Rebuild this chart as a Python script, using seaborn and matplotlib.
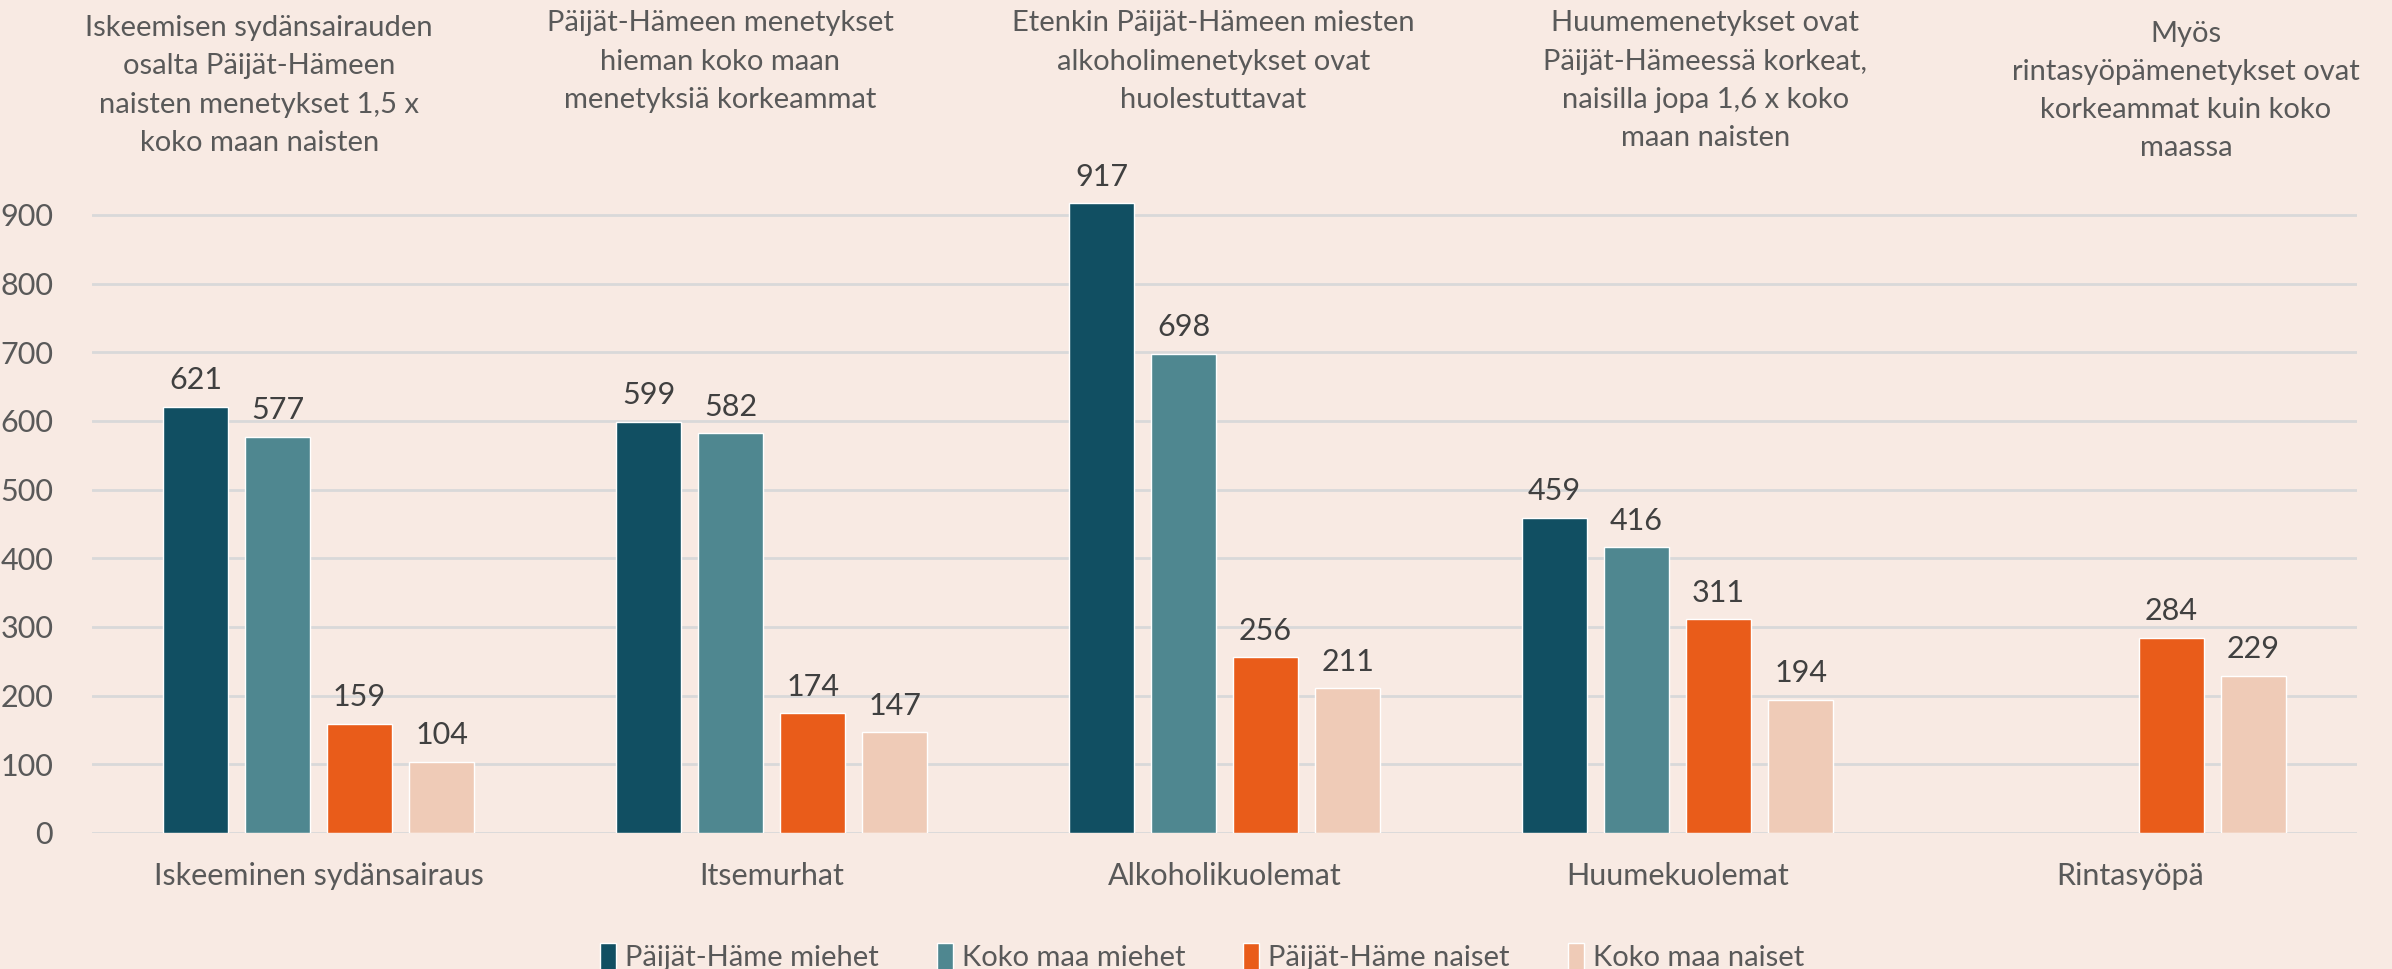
import numpy as np
import pandas as pd
import seaborn as sns
import matplotlib
matplotlib.use('Agg')
import matplotlib.pyplot as plt

categories = ['Iskeeminen sydänsairaus', 'Itsemurhat', 'Alkoholikuolemat',
              'Huumekuolemat', 'Rintasyöpä']
groups = ['Päijät-Häme miehet', 'Koko maa miehet', 'Päijät-Häme naiset', 'Koko maa naiset']
ph_miehet = [621, 599, 917, 459, np.nan]
kk_miehet = [577, 582, 698, 416, np.nan]
ph_naiset = [159, 174, 256, 311, 284]
kk_naiset = [104, 147, 211, 194, 229]
titles = [
    'Iskeemisen sydänsairauden\nosalta Päijät-Hämeen\nnaisten menetykset 1,5 x\nkoko maan naisten',
    'Päijät-Hämeen menetykset\nhieman koko maan\nmenetyksiä korkeammat',
    'Etenkin Päijät-Hämeen miesten\nalkoholimenetykset ovat\nhuolestuttavat',
    'Huumemenetykset ovat\nPäijät-Hämeessä korkeat,\nnaisilla jopa 1,6 x koko\nmaan naisten',
    'Myös\nrintasyöpämenetykset ovat\nkorkeammat kuin koko\nmaassa',
]
colors = ['#114F62', '#4F8790', '#E95C1A', '#EFCBB7']

# title text boxes (x in category units, top in axes fraction)
title_x = [-0.131, 0.886, 1.975, 3.061, 4.122]
title_top = [1.191, 1.198, 1.198, 1.198, 1.183]

bg = '#F8EAE3'
txt = '#595959'


def build_frame():
    rows = []
    for g, vals in zip(groups, [ph_miehet, kk_miehet, ph_naiset, kk_naiset]):
        for c, v in zip(categories, vals):
            if not np.isnan(v):
                rows.append({'kategoria': c, 'ryhma': g, 'arvo': v})
    return pd.DataFrame(rows)


def main():
    df = build_frame()
    sns.set_style('white')
    plt.rcParams['font.family'] = ['Lato', 'DejaVu Sans']

    fig = plt.figure(figsize=(23.92, 9.69), dpi=100, facecolor=bg)
    ax = fig.add_axes([0.0385, 0.1404, 0.9469, 0.7086])
    ax.set_facecolor(bg)

    sns.barplot(data=df, x='kategoria', y='arvo', hue='ryhma', order=categories,
                hue_order=groups, palette=colors, width=0.724, gap=0.21,
                errorbar=None, saturation=1, ax=ax)

    for cont in ax.containers:
        ax.bar_label(cont, fmt='%.0f', padding=9, fontsize=22, color='#404040')

    ax.set_ylim(0, 1000)
    ax.set_xlim(-0.5, 4.5)
    ax.set_yticks(range(0, 1000, 100))
    ax.yaxis.grid(True, color='#D9D9D9', linewidth=2)
    ax.set_axisbelow(True)
    for s in ax.spines.values():
        s.set_visible(False)
    ax.tick_params(axis='both', length=0, labelsize=22, labelcolor=txt)
    ax.tick_params(axis='x', pad=21)
    ax.tick_params(axis='y', pad=28)
    ax.set_xlabel('')
    ax.set_ylabel('')

    trans = ax.get_xaxis_transform()
    for t, x, y in zip(titles, title_x, title_top):
        ax.text(x, y, t, transform=trans, ha='center', va='top', fontsize=21,
                color=txt, linespacing=1.58)

    leg = ax.legend(loc='lower center', bbox_to_anchor=(0.49, -0.24), ncol=4,
                    frameon=False, fontsize=21, handlelength=0.55, handleheight=1.0,
                    handletextpad=0.3, columnspacing=2.0)
    for t in leg.get_texts():
        t.set_color(txt)

    fig.savefig('out.png', dpi=100, facecolor=bg)


if __name__ == "__main__":
    main()
